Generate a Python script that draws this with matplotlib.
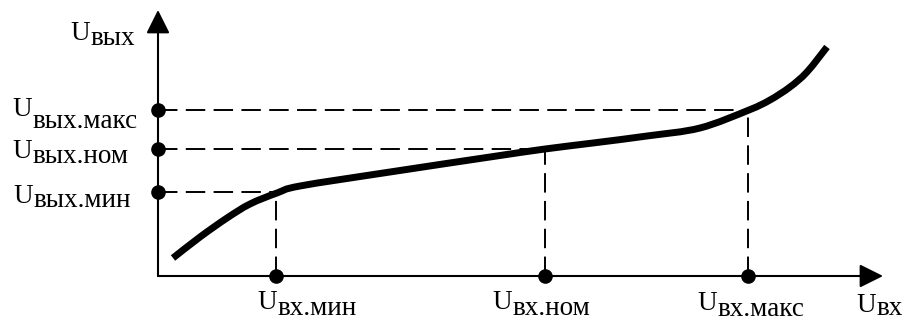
import matplotlib
matplotlib.use("Agg")
import matplotlib.pyplot as plt
from matplotlib.path import Path
from matplotlib.patches import PathPatch
import numpy as np

plt.rcParams['font.family'] = ['Liberation Serif', 'DejaVu Serif']

# characteristic curve U_out(U_in) (arbitrary units)
curve_x = [0.15, 0.42, 0.69, 0.92, 1.19, 1.42, 2.32, 3.32, 3.87, 4.35, 4.89, 5.42, 5.91, 6.12, 6.32, 6.49, 6.69]
curve_y = [0.18, 0.39, 0.58, 0.72, 0.83, 0.90, 1.04, 1.19, 1.27, 1.33, 1.40, 1.48, 1.66, 1.76, 1.89, 2.04, 2.29]

# marked operating points
x_marks = [1.18, 3.87, 5.90]          # U_вх.мин, U_вх.ном, U_вх.макс
y_marks = [0.84, 1.27, 1.66]          # U_вых.мин, U_вых.ном, U_вых.макс
x_subs = ['вх.мин', 'вх.ном', 'вх.макс']
y_subs = ['вых.мин', 'вых.ном', 'вых.макс']
axis_x_sub = 'вх'
axis_y_sub = 'вых'

x_axis_end = 7.25
y_axis_end = 2.66

fig = plt.figure(figsize=(9.09, 3.22), dpi=100)
ax = fig.add_axes([0, 0, 1, 1])
ax.set_xlim(-1.58, 7.51)
ax.set_ylim(-0.46, 2.76)
ax.axis('off')

FS = 19.5
arrow_kw = dict(arrowstyle='-|>,head_length=0.8,head_width=0.4', mutation_scale=18,
                lw=1.5, color='black', shrinkA=0, shrinkB=0)
ax.annotate('', xy=(x_axis_end, 0), xytext=(0, 0), arrowprops=arrow_kw)
ax.annotate('', xy=(0, y_axis_end), xytext=(0, 0), arrowprops=arrow_kw)

# dashed guide lines
for xm, ym in zip(x_marks, y_marks):
    l1, = ax.plot([0, xm], [ym, ym], color='black', lw=1.4)
    l2, = ax.plot([xm, xm], [0, ym], color='black', lw=1.4)
    for l in (l1, l2):
        l.set_dashes([10, 4.3])

# the curve, drawn as a smooth Bezier path through the read points
P = np.column_stack([curve_x, curve_y])
verts = [tuple(P[0])]
codes = [Path.MOVETO]
n = len(P)
for i in range(n - 1):
    p0 = P[i - 1] if i > 0 else P[i]
    p1 = P[i]
    p2 = P[i + 1]
    p3 = P[i + 2] if i + 2 < n else P[i + 1]
    c1 = p1 + (p2 - p0) / 6.0
    c2 = p2 - (p3 - p1) / 6.0
    verts += [tuple(c1), tuple(c2), tuple(p2)]
    codes += [Path.CURVE4] * 3
ax.add_patch(PathPatch(Path(verts, codes), facecolor='none', edgecolor='black',
                       lw=5, capstyle='butt', joinstyle='round', zorder=3))

# dots
ax.plot(x_marks, [0] * len(x_marks), 'o', color='black', ms=9.5, zorder=4)
ax.plot([0] * len(y_marks), y_marks, 'o', color='black', ms=9.5, zorder=4)


def label(anchor, u_off, sub, sub_dy):
    # u_off: (dx, dy) offset in pixels of U left/baseline relative to anchor
    ax.annotate('U', xy=anchor, xycoords='data', xytext=u_off, textcoords='offset pixels',
                ha='left', va='baseline', fontsize=FS, annotation_clip=False)
    ax.annotate(sub, xy=anchor, xycoords='data', xytext=(u_off[0] + 21, u_off[1] - sub_dy),
                textcoords='offset pixels', ha='left', va='baseline', fontsize=FS,
                annotation_clip=False)


# x labels (below axis)
x_label_off = [(-19, -33), (-53, -33), (-51, -34)]
for xm, sub, off in zip(x_marks, x_subs, x_label_off):
    label((xm, 0), off, sub, 6)

# y labels (left of axis)
y_label_off = [(-145, -11), (-146, -9), (-146, -6)]
y_sub_dy = [4, 5, 12]
for ym, sub, off, sd in zip(y_marks, y_subs, y_label_off, y_sub_dy):
    label((0, ym), off, sub, sd)

# axis titles
label((0, y_axis_end), (-88, -30), axis_y_sub, 5)
label((x_axis_end, 0), (-27, -36), axis_x_sub, 3)

fig.savefig('out.png', dpi=100)
